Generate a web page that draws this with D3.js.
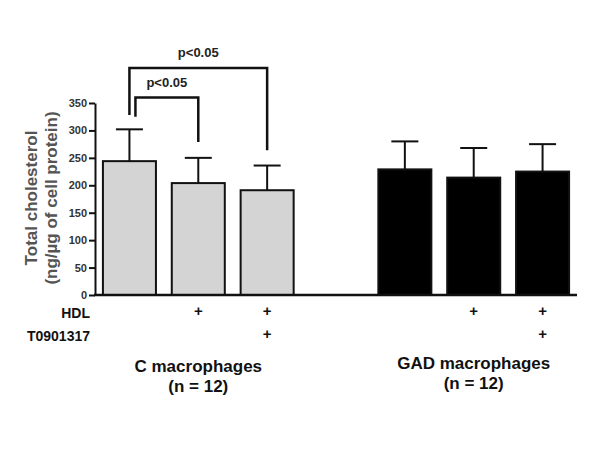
<!DOCTYPE html>
<html>
<head>
<meta charset="utf-8">
<script src="https://cdn.jsdelivr.net/npm/d3@7"></script>
<style>
  body { margin: 0; background: #fff; }
  svg { display: block; font-family: "Liberation Sans", Arial, sans-serif; }
</style>
</head>
<body>
<div id="chart"></div>
<script>
// bar keys; "gap" is the empty slot between the two groups
const categories = ["C", "C_HDL", "C_HDL_T", "gap", "GAD", "GAD_HDL", "GAD_HDL_T"];
const groups = ["C", "C", "C", null, "GAD", "GAD", "GAD"];
const means = [244, 204, 191, null, 229, 214, 225];
const errors = [58, 46, 45, null, 51, 54, 50];
const hdlRow = ["", "+", "+", "", "", "+", "+"];
const tRow = ["", "", "+", "", "", "", "+"];
const yTicks = [0, 50, 100, 150, 200, 250, 300, 350];

// significance brackets (heights in data units)
const brackets = [
    {from: "C", to: "C_HDL_T", top: 414, leftEnd: 328, rightEnd: 264, dx: 0, label: "p<0.05"},
    {from: "C", to: "C_HDL", top: 360, leftEnd: 325, rightEnd: 279, dx: 6, label: "p<0.05"}
];

const width = 600, height = 450;
const margin = {top: 103, left: 95, bottom: 155, right: 23};

const svg = d3.select("#chart")
    .append("svg")
    .attr("width", width)
    .attr("height", height);

svg.append("rect").attr("width", width).attr("height", height).attr("fill", "#fff");

const x = d3.scaleBand()
    .domain(categories)
    .range([margin.left, width - margin.right])
    .paddingInner(0.23)
    .paddingOuter(0.115);

const y = d3.scaleLinear()
    .domain([0, 350])
    .range([height - margin.bottom, margin.top]);

const bars = categories.map(function(c, i) {
    return {key: c, group: groups[i], mean: means[i], err: errors[i]};
}).filter(function(d) { return d.group !== null; });

// error bars (upper only), drawn under the bars
const eb = svg.append("g").attr("stroke", "#111").attr("stroke-width", 2);
bars.forEach(function(d) {
    const cx = x(d.key) + x.bandwidth() / 2;
    eb.append("line")
        .attr("x1", cx).attr("x2", cx)
        .attr("y1", y(d.mean)).attr("y2", y(d.mean + d.err));
    eb.append("line")
        .attr("x1", cx - 13.5).attr("x2", cx + 13.5)
        .attr("y1", y(d.mean + d.err)).attr("y2", y(d.mean + d.err));
});

// bars
svg.append("g")
    .selectAll("rect")
    .data(bars)
    .enter()
    .append("rect")
    .attr("x", function(d) { return x(d.key); })
    .attr("y", function(d) { return y(d.mean); })
    .attr("width", x.bandwidth())
    .attr("height", function(d) { return y(0) - y(d.mean); })
    .attr("fill", function(d) { return d.group === "C" ? "#d4d4d4" : "#000"; })
    .attr("stroke", "#111")
    .attr("stroke-width", 2);

// y-axis
const yAxis = svg.append("g")
    .attr("transform", "translate(" + margin.left + ",0)")
    .call(d3.axisLeft(y).tickValues(yTicks).tickSize(6).tickPadding(2).tickSizeOuter(0));
yAxis.select(".domain").attr("stroke", "#111").attr("stroke-width", 2);
yAxis.selectAll(".tick line").attr("stroke", "#111").attr("stroke-width", 2);
yAxis.selectAll(".tick text")
    .attr("fill", "#333")
    .style("font-size", "11px")
    .style("font-weight", "bold")
    .style("font-family", "'Liberation Sans', Arial, sans-serif");

// x-axis line
svg.append("line")
    .attr("x1", margin.left - 1).attr("x2", width - margin.right)
    .attr("y1", y(0)).attr("y2", y(0))
    .attr("stroke", "#111")
    .attr("stroke-width", 2.5);

// y-axis title
const yTitle = svg.append("text")
    .attr("transform", "translate(37,198) rotate(-90)")
    .attr("text-anchor", "middle")
    .attr("fill", "#555")
    .style("font-size", "17px")
    .style("font-weight", "bold");
yTitle.append("tspan").attr("x", 0).attr("dy", 0).text("Total cholesterol");
yTitle.append("tspan").attr("x", 0).attr("dy", 20).text("(ng/\u00b5g of cell protein)");

// treatment rows
const rows = [
    {label: "HDL", values: hdlRow, y: 318},
    {label: "T0901317", values: tRow, y: 341}
];
rows.forEach(function(r) {
    svg.append("text")
        .attr("x", 90).attr("y", r.y)
        .attr("text-anchor", "end")
        .attr("fill", "#111")
        .style("font-size", "14px")
        .style("font-weight", "bold")
        .text(r.label);
    svg.append("g")
        .selectAll("text")
        .data(categories.map(function(c, i) { return {key: c, v: r.values[i]}; }))
        .enter()
        .append("text")
        .attr("x", function(d) { return x(d.key) + x.bandwidth() / 2; })
        .attr("y", r.y - 2)
        .attr("text-anchor", "middle")
        .attr("fill", "#111")
        .style("font-size", "15px")
        .style("font-weight", "bold")
        .text(function(d) { return d.v; });
});

// group labels
const groupLabels = [
    {name: "C macrophages", keys: ["C", "C_HDL", "C_HDL_T"], y: 372},
    {name: "GAD macrophages", keys: ["GAD", "GAD_HDL", "GAD_HDL_T"], y: 369}
];
groupLabels.forEach(function(g) {
    const cx = x(g.keys[1]) + x.bandwidth() / 2;
    const t = svg.append("text")
        .attr("x", cx).attr("y", g.y)
        .attr("text-anchor", "middle")
        .attr("fill", "#111")
        .style("font-size", "17px")
        .style("font-weight", "bold");
    t.append("tspan").attr("x", cx).text(g.name);
    t.append("tspan").attr("x", cx).attr("dy", 20).text("(n = 12)");
});

// significance brackets
brackets.forEach(function(b) {
    const x1 = x(b.from) + x.bandwidth() / 2 + b.dx;
    const x2 = x(b.to) + x.bandwidth() / 2;
    svg.append("path")
        .attr("d", "M" + x1 + "," + y(b.leftEnd) +
                   "V" + y(b.top) + "H" + x2 + "V" + y(b.rightEnd))
        .attr("fill", "none")
        .attr("stroke", "#111")
        .attr("stroke-width", 2.5);
    svg.append("text")
        .attr("x", (x1 + x2) / 2)
        .attr("y", y(b.top) - 11)
        .attr("text-anchor", "middle")
        .attr("fill", "#222")
        .style("font-size", "13px")
        .style("font-weight", "bold")
        .text(b.label);
});
</script>
</body>
</html>
